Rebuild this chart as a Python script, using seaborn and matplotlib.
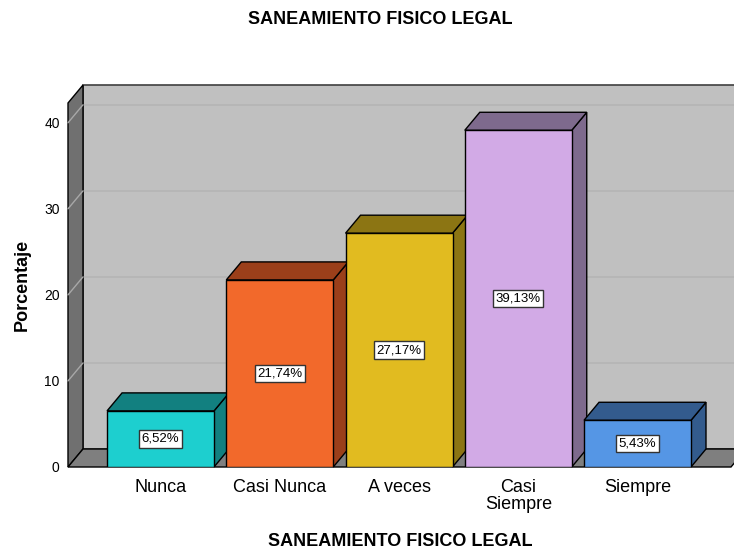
import numpy as np
import pandas as pd
import seaborn as sns
import matplotlib.pyplot as plt
from matplotlib.patches import Polygon, Rectangle
from matplotlib.transforms import Affine2D, IdentityTransform

categorias = ['Nunca', 'Casi Nunca', 'A veces', 'Casi\nSiempre', 'Siempre']
porcentajes = [6.52, 21.74, 27.17, 39.13, 5.43]
etiquetas = ['6,52%', '21,74%', '27,17%', '39,13%', '5,43%']
color_frente = ['#1dcfcf', '#f2692b', '#e1bb20', '#d2aae6', '#5596e5']
color_lado = ['#128080', '#9b3f1a', '#8c7513', '#7e6a8d', '#335b8d']
ticks_y = [0, 10, 20, 30, 40]

sns.set_style('white')
plt.rcParams['font.family'] = ['Liberation Sans', 'DejaVu Sans']
plt.rcParams['text.color'] = 'black'
plt.rcParams['xtick.color'] = 'black'
plt.rcParams['ytick.color'] = 'black'

W, H = 734, 551
fig = plt.figure(figsize=(7.34, 5.51), dpi=100)
x0, x1, y0, y1 = 68, 731, 467, 103
ax = fig.add_axes([x0 / W, 1 - y0 / H, (x1 - x0) / W, (y0 - y1) / H])

df = pd.DataFrame({'cat': categorias, 'pct': porcentajes})
sns.barplot(data=df, x='cat', y='pct', hue='cat', palette=color_frente, legend=False,
            width=0.897, edgecolor='black', linewidth=1, saturation=1, ax=ax)
ax.set_xlim(-0.776, 4.784)
ax.set_ylim(0, 42.3)
ax.patch.set_visible(False)
for s in ax.spines.values():
    s.set_visible(False)

# profundidad del efecto 3D (pixeles)
dx, dy = 15, 18
xl, xr = ax.get_xlim()
yb, yt = ax.get_ylim()
fondo = ax.transAxes + Affine2D().translate(dx, dy)
fondo_data = ax.transData + Affine2D().translate(dx, dy)


def px(x, y, back=False):
    p = ax.transData.transform((x, y))
    if back:
        p = p + np.array([dx, dy])
    return p


# pared trasera
ax.add_patch(Rectangle((0, 0), 1, 1, transform=fondo, fc='#c0c0c0', ec='#404040',
                       lw=1.2, zorder=0, clip_on=False))
for v in ticks_y[1:]:
    ax.plot([xl, xr], [v, v], transform=fondo_data, color='#b4b4b4', lw=1.2,
            zorder=0.2, clip_on=False)

# pared izquierda
ax.add_patch(Polygon([px(xl, yb), px(xl, yt), px(xl, yt, True), px(xl, yb, True)],
                     transform=IdentityTransform(), fc='#707070', ec='black', lw=1,
                     zorder=0.5, clip_on=False))
for v in ticks_y[1:]:
    a, b = px(xl, v), px(xl, v, True)
    ax.plot([a[0], b[0]], [a[1], b[1]], transform=IdentityTransform(), color='#a8a8a8',
            lw=1, zorder=0.6, clip_on=False)

# piso
ax.add_patch(Polygon([px(xl, yb), px(xr, yb), px(xr, yb, True), px(xl, yb, True)],
                     transform=IdentityTransform(), fc='#7f7f7f', ec='black', lw=1,
                     zorder=0.5, clip_on=False))

# caras laterales y superiores de las barras
for i, bar in enumerate(ax.patches[:len(porcentajes)]):
    bar.set_zorder(3)
    a = bar.get_x()
    b = a + bar.get_width()
    h = bar.get_height()
    lado = Polygon([px(b, 0), px(b, h), px(b, h, True), px(b, 0, True)],
                   transform=IdentityTransform(), fc=color_lado[i], ec='black', lw=1,
                   zorder=2, clip_on=False)
    tapa = Polygon([px(a, h), px(b, h), px(b, h, True), px(a, h, True)],
                   transform=IdentityTransform(), fc=color_lado[i], ec='black', lw=1,
                   zorder=2, clip_on=False)
    ax.add_patch(lado)
    ax.add_patch(tapa)
    ax.text(a + bar.get_width() / 2, h / 2, etiquetas[i], ha='center', va='center',
            fontsize=9.5, zorder=5,
            bbox=dict(boxstyle='square,pad=0.2', fc='white', ec='#333333', lw=1))

ax.set_yticks(ticks_y)
ax.tick_params(axis='y', length=0, pad=6, labelsize=10, labelcolor='black')
ax.tick_params(axis='x', length=0, pad=9, labelsize=13, labelcolor='black')
for t in ax.get_xticklabels():
    t.set_linespacing(0.95)
ax.set_xlabel('')
ax.set_ylabel('')

fig.text(380 / W, 1 - 20 / H, 'SANEAMIENTO FISICO LEGAL', ha='center', va='center',
         fontsize=13, fontweight='bold')
fig.text(400 / W, 1 - 541 / H, 'SANEAMIENTO FISICO LEGAL', ha='center', va='center',
         fontsize=13, fontweight='bold')
fig.text(22 / W, 1 - 285 / H, 'Porcentaje', rotation=90, ha='center', va='center',
         fontsize=13, fontweight='bold')

fig.savefig('out.png', dpi=100)
